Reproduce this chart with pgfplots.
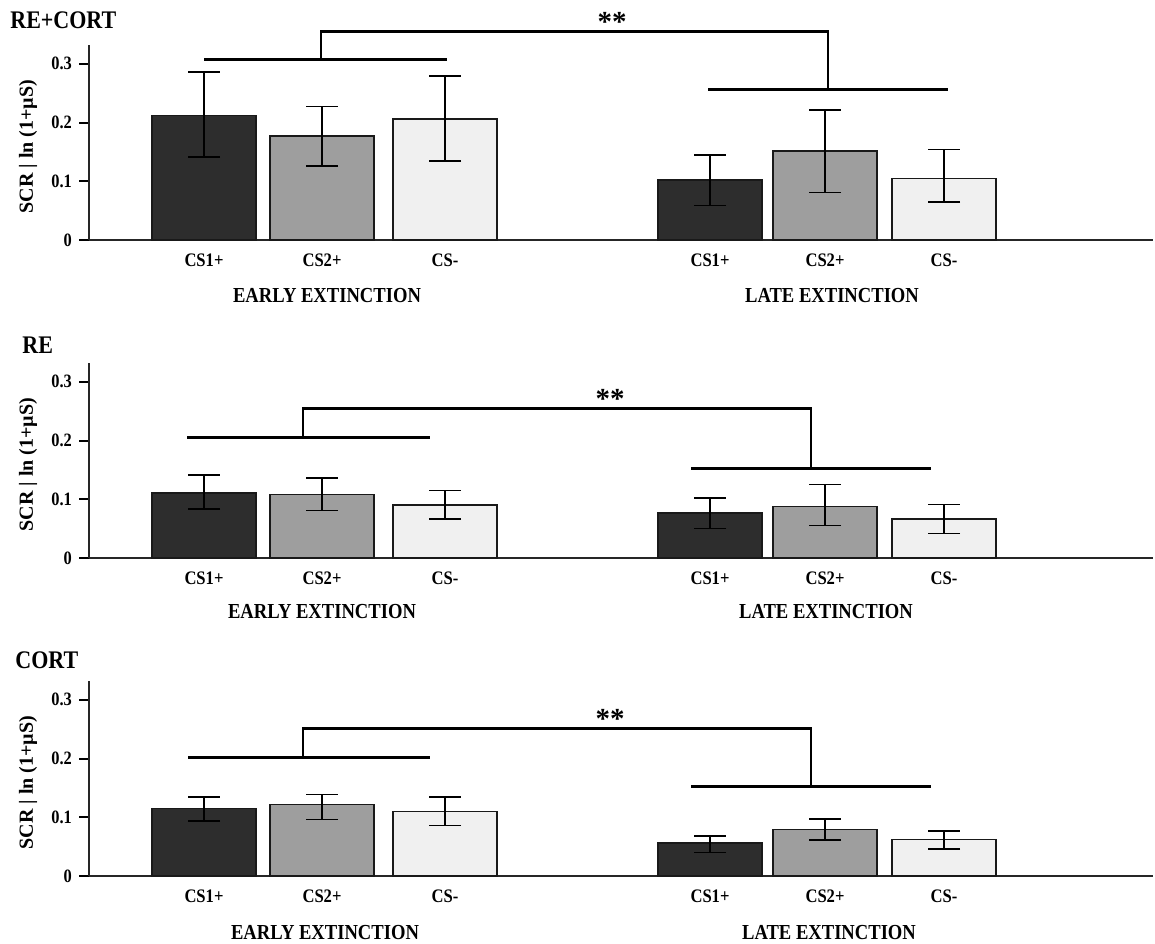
\documentclass[border=0pt]{standalone}
\usepackage{graphicx}
\usepackage{pgfplots}
\pgfplotsset{compat=1.18}
\usepackage{fontspec}
\setmainfont{Liberation Serif}
\newcommand{\st}[1]{\scalebox{1}[1.15]{#1}}
\definecolor{darkbar}{RGB}{45,45,45}
\definecolor{midbar}{RGB}{158,158,158}
\definecolor{lightbar}{RGB}{240,240,240}
\pgfplotsset{panel/.style={
 scale only axis, width=532pt, height=97.5pt,
 xmin=89, xmax=1153, ymin=0, ymax=0.332,
 axis x line=bottom, axis y line=left,
 axis line style={-, line width=1pt, black!85},
 ytick={0,0.1,0.2,0.3}, yticklabels={\st{0},\st{0.1},\st{0.2},\st{0.3}},
 yticklabel style={font=\fontsize{8.2}{9}\selectfont\bfseries},
 xtick={204,322,445,710,825,944},
 xticklabels={\st{CS1+},\st{CS2+},\st{CS-},\st{CS1+},\st{CS2+},\st{CS-}},
 xticklabel style={font=\fontsize{8.3}{9}\selectfont\bfseries, yshift=1.5pt},
 x tick style={draw=none}, y tick style={line width=1pt, black},
 tick align=outside, major tick length=5pt,
 ylabel={SCR | ln (1+µS)},
 ylabel style={font=\fontsize{10}{11}\selectfont\bfseries, at={(axis description cs:-0.0573,0.48)}, anchor=center},
 clip=false, ybar, bar width=104,
 error bars/y dir=both, error bars/y explicit,
 error bars/error bar style={line width=0.8pt, black},
 error bars/error mark options={rotate=90, mark size=8pt, line width=0.8pt, black},
},
 barstyle/.style={draw=black!90, line width=0.8pt, bar shift=0pt},
}
\tikzset{
 brk/.style={line width=1.4pt, black},
 grp/.style={font=\fontsize{9.3}{10}\selectfont\bfseries},
 stars/.style={font=\fontsize{14.5}{15}\selectfont\bfseries, anchor=south, inner sep=0pt},
 ttl/.style={anchor=west, inner sep=0pt, font=\fontsize{11}{12}\selectfont\bfseries},
}
\begin{document}
\begin{tikzpicture}
\useasboundingbox (0,0) rectangle (577.5pt,471.5pt);
% ---------------- Panel 1: RE+CORT
\node[ttl] at (5pt,461.5pt) {\st{RE+CORT}};
\begin{axis}[panel, at={(44.5pt,351.5pt)}, anchor=south west]
\addplot[barstyle, fill=darkbar] table[x=x, y=y, y error plus expr=\thisrow{hi}-\thisrow{y}, y error minus expr=\thisrow{y}-\thisrow{lo}] {
x y lo hi
204 0.212 0.141 0.286
710 0.102 0.059 0.145
};
\addplot[barstyle, fill=midbar] table[x=x, y=y, y error plus expr=\thisrow{hi}-\thisrow{y}, y error minus expr=\thisrow{y}-\thisrow{lo}] {
x y lo hi
322 0.177 0.126 0.227
825 0.152 0.081 0.221
};
\addplot[barstyle, fill=lightbar] table[x=x, y=y, y error plus expr=\thisrow{hi}-\thisrow{y}, y error minus expr=\thisrow{y}-\thisrow{lo}] {
x y lo hi
445 0.206 0.134 0.279
944 0.105 0.065 0.154
};
\draw[brk] (axis cs:204,0.307) -- (axis cs:447,0.307);
\draw[brk] (axis cs:321,0.307) -- (axis cs:321,0.355) -- (axis cs:828,0.355) -- (axis cs:828,0.256);
\draw[brk] (axis cs:708,0.256) -- (axis cs:948,0.256);
\node[stars] at (axis cs:612,0.355) {**};
\node[grp] at (axis cs:327,0) [yshift=-28pt] {\st{EARLY EXTINCTION}};
\node[grp] at (axis cs:832,0) [yshift=-28pt] {\st{LATE EXTINCTION}};
\end{axis}
% ---------------- Panel 2: RE
\node[ttl] at (11pt,299pt) {\st{RE}};
\begin{axis}[panel, at={(44.5pt,192.5pt)}, anchor=south west]
\addplot[barstyle, fill=darkbar] table[x=x, y=y, y error plus expr=\thisrow{hi}-\thisrow{y}, y error minus expr=\thisrow{y}-\thisrow{lo}] {
x y lo hi
204 0.111 0.083 0.141
710 0.077 0.050 0.102
};
\addplot[barstyle, fill=midbar] table[x=x, y=y, y error plus expr=\thisrow{hi}-\thisrow{y}, y error minus expr=\thisrow{y}-\thisrow{lo}] {
x y lo hi
322 0.108 0.081 0.136
825 0.088 0.055 0.125
};
\addplot[barstyle, fill=lightbar] table[x=x, y=y, y error plus expr=\thisrow{hi}-\thisrow{y}, y error minus expr=\thisrow{y}-\thisrow{lo}] {
x y lo hi
445 0.090 0.066 0.115
944 0.066 0.042 0.091
};
\draw[brk] (axis cs:187,0.205) -- (axis cs:430,0.205);
\draw[brk] (axis cs:303,0.205) -- (axis cs:303,0.254) -- (axis cs:811,0.254) -- (axis cs:811,0.153);
\draw[brk] (axis cs:691,0.153) -- (axis cs:931,0.153);
\node[stars] at (axis cs:610,0.254) {**};
\node[grp] at (axis cs:322,0) [yshift=-27pt] {\st{EARLY EXTINCTION}};
\node[grp] at (axis cs:826,0) [yshift=-27pt] {\st{LATE EXTINCTION}};
\end{axis}
% ---------------- Panel 3: CORT
\node[ttl] at (7.5pt,141.5pt) {\st{CORT}};
\begin{axis}[panel, at={(44.5pt,33.5pt)}, anchor=south west]
\addplot[barstyle, fill=darkbar] table[x=x, y=y, y error plus expr=\thisrow{hi}-\thisrow{y}, y error minus expr=\thisrow{y}-\thisrow{lo}] {
x y lo hi
204 0.115 0.094 0.135
710 0.056 0.040 0.068
};
\addplot[barstyle, fill=midbar] table[x=x, y=y, y error plus expr=\thisrow{hi}-\thisrow{y}, y error minus expr=\thisrow{y}-\thisrow{lo}] {
x y lo hi
322 0.122 0.096 0.139
825 0.079 0.061 0.097
};
\addplot[barstyle, fill=lightbar] table[x=x, y=y, y error plus expr=\thisrow{hi}-\thisrow{y}, y error minus expr=\thisrow{y}-\thisrow{lo}] {
x y lo hi
445 0.110 0.086 0.135
944 0.062 0.046 0.077
};
\draw[brk] (axis cs:188,0.202) -- (axis cs:430,0.202);
\draw[brk] (axis cs:303,0.202) -- (axis cs:303,0.251) -- (axis cs:811,0.251) -- (axis cs:811,0.152);
\draw[brk] (axis cs:691,0.152) -- (axis cs:931,0.152);
\node[stars] at (axis cs:610,0.251) {**};
\node[grp] at (axis cs:325,0) [yshift=-28.5pt] {\st{EARLY EXTINCTION}};
\node[grp] at (axis cs:829,0) [yshift=-28.5pt] {\st{LATE EXTINCTION}};
\end{axis}
\end{tikzpicture}
\end{document}
